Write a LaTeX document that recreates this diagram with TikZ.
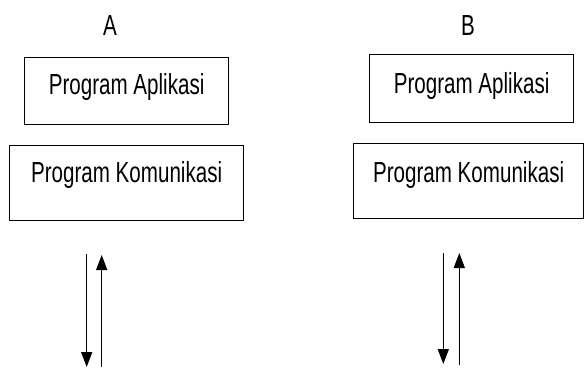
\documentclass[tikz,border=0pt]{standalone}
\usepackage{fontspec}
\setmainfont{Liberation Sans}[FakeStretch=0.71]
\usetikzlibrary{arrows.meta}
\begin{document}
\begin{tikzpicture}[x=1pt,y=-1pt,
  txt/.style={font=\fontsize{29}{30}\selectfont},
  box/.style={txt,draw=black,line width=1.3pt,inner sep=0pt,anchor=north west},
  lbl/.style={txt,inner sep=0pt,anchor=base},
  flow/.style={line width=1.5pt,-{Triangle[width=11pt,length=15pt]}}]
\useasboundingbox (0,0) rectangle (584,381);

% station A
\node[lbl] (la) at (110,35) {A};
\node[box,minimum width=204pt,text height=37pt,text depth=30pt] (appA) at (24,57) {Program Aplikasi};
\node[box,minimum width=234pt,text height=36.7pt,text depth=38.3pt] (comA) at (9,145) {Program Komunikasi};
\coordinate (a1) at (86.7,254);
\coordinate (a2) at (86.7,367);
\coordinate (a3) at (101.7,367);
\coordinate (a4) at (101.7,255);
\draw[flow] (a1) -- (a2);
\draw[flow] (a3) -- (a4);

% station B
\node[lbl] (lb) at (468,35) {B};
\node[box,minimum width=204pt,text height=39.3pt,text depth=28.7pt] (appB) at (369,54) {Program Aplikasi};
\node[box,minimum width=230pt,text height=38.7pt,text depth=36.3pt] (comB) at (353,143) {Program Komunikasi};
\coordinate (b1) at (443.3,253);
\coordinate (b2) at (443.3,364);
\coordinate (b3) at (459.3,365);
\coordinate (b4) at (459.3,253);
\draw[flow] (b1) -- (b2);
\draw[flow] (b3) -- (b4);
\end{tikzpicture}
\end{document}
